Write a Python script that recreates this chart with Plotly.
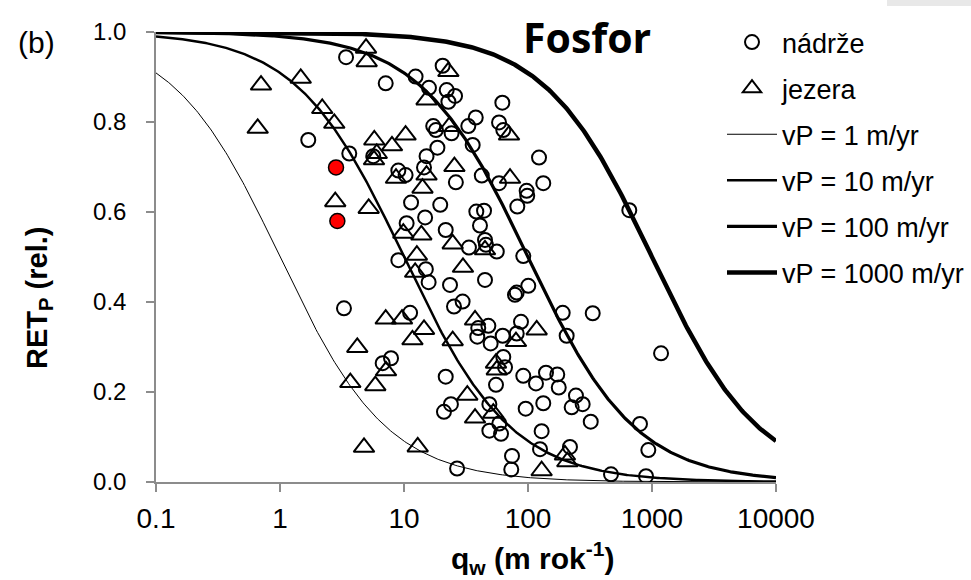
import numpy as np
import plotly.graph_objects as go

# ---- data ----
nadrze_q = [3.41, 7.12, 20.5, 12.4, 15.9, 22.1, 25.8, 22.8, 37.9, 33.0, 17.2, 18.1, 24.2, 1.69, 35.8,
            18.6, 3.62, 5.65, 15.2, 26.2, 9.0, 10.3, 14.5, 11.4, 19.6, 14.8, 38.3, 10.5, 21.7, 33.4,
            9.0, 15.0, 15.8, 23.5, 29.7, 25.3, 3.28, 11.2, 39.7, 39.0, 7.86, 6.73, 21.7, 23.9, 21.0,
            26.8, 62.1, 58.4, 63.2, 122.7, 42.4, 58.4, 132.8, 97.5, 98.6, 82.0, 44.2, 41.0, 656, 45.0,
            56.0, 91.6, 45.8, 45.0, 100.5, 81.1, 78.5, 190.5, 332.6, 47.9, 87.8, 62.5, 81.1, 50.0, 205,
            63.2, 65.3, 91.6, 116, 139.7, 172.2, 177, 55.2, 243.6, 225, 276, 132.8, 95.8, 48.8, 320.6,
            58.7, 48.8, 60.6, 128.8, 125, 218, 74.3, 73.3, 467, 800, 1183, 934, 895]
nadrze_ret = [0.944, 0.886, 0.925, 0.901, 0.876, 0.871, 0.858, 0.845, 0.810, 0.791, 0.791, 0.782, 0.775, 0.760, 0.749,
              0.743, 0.730, 0.724, 0.724, 0.666, 0.692, 0.682, 0.699, 0.621, 0.616, 0.588, 0.601, 0.575, 0.560, 0.521,
              0.493, 0.473, 0.444, 0.438, 0.401, 0.390, 0.386, 0.376, 0.342, 0.323, 0.275, 0.264, 0.234, 0.173, 0.156,
              0.030, 0.843, 0.799, 0.782, 0.721, 0.681, 0.664, 0.664, 0.647, 0.636, 0.612, 0.603, 0.570, 0.604, 0.538,
              0.512, 0.502, 0.527, 0.449, 0.436, 0.421, 0.416, 0.376, 0.375, 0.347, 0.356, 0.325, 0.330, 0.308, 0.325,
              0.278, 0.255, 0.236, 0.219, 0.243, 0.239, 0.210, 0.216, 0.192, 0.166, 0.173, 0.175, 0.163, 0.173, 0.134,
              0.130, 0.114, 0.107, 0.113, 0.073, 0.078, 0.058, 0.028, 0.017, 0.129, 0.286, 0.071, 0.013]

jezera_q = [0.703, 0.661, 4.94, 5.0, 1.47, 22.8, 15.2, 2.19, 2.74, 23.2, 10.3, 5.76, 8.0, 6.03, 5.73,
            25.5, 8.62, 15.2, 14.1, 2.79, 5.19, 9.87, 13.8, 24.7, 12.7, 12.3, 29.9, 7.12, 9.64, 14.5,
            11.7, 24.7, 37.4, 4.20, 7.16, 3.69, 5.87, 32.4, 37.4, 4.76, 12.9, 70.3, 71.6, 45.0, 117.5,
            80.0, 55.2, 56.0, 52.5, 198.6, 207.5, 128.8]
jezera_ret = [0.882, 0.786, 0.964, 0.934, 0.897, 0.912, 0.849, 0.830, 0.797, 0.790, 0.771, 0.760, 0.747, 0.730, 0.716,
              0.701, 0.675, 0.682, 0.653, 0.623, 0.608, 0.553, 0.549, 0.529, 0.504, 0.466, 0.477, 0.362, 0.362, 0.339,
              0.316, 0.314, 0.360, 0.299, 0.247, 0.221, 0.214, 0.193, 0.142, 0.077, 0.078, 0.771, 0.675, 0.516, 0.338,
              0.312, 0.264, 0.249, 0.153, 0.060, 0.045, 0.025]

highlight_q = [2.83, 2.90]
highlight_ret = [0.699, 0.580]

vp_values = [1, 10, 100, 1000]
vp_names = ["vP = 1 m/yr", "vP = 10 m/yr", "vP = 100 m/yr", "vP = 1000 m/yr"]
vp_widths = [1, 2.5, 3.2, 4.5]

x_tickvals = [0.1, 1, 10, 100, 1000, 10000]
x_ticktext = ["0.1", "1", "10", "100", "1000", "10000"]

# model curves RET = vP / (vP + qw)
q_grid = np.logspace(-1, 4, 400)

W, H = 971, 580
ML, MR, MT, MB = 156, 195, 32, 98
pw = W - ML - MR
ph = H - MT - MB


def to_paper(px, py):
    return (px - ML) / pw, (H - MB - py) / ph


fig = go.Figure()

fig.add_trace(go.Scatter(x=nadrze_q, y=nadrze_ret, mode="markers", name="nádrže",
                         legendgroup="a",
                         marker=dict(symbol="circle-open", size=14, color="black", line=dict(width=2))))
fig.add_trace(go.Scatter(x=jezera_q, y=jezera_ret, mode="markers", name="jezera",
                         legendgroup="b",
                         marker=dict(symbol="triangle-up-open", size=18, color="black", line=dict(width=2))))
fig.add_trace(go.Scatter(x=highlight_q, y=highlight_ret, mode="markers", showlegend=False,
                         marker=dict(symbol="circle", size=15, color="#ff0000", line=dict(width=1.5, color="black"))))

for i, (vp, nm, w) in enumerate(zip(vp_values, vp_names, vp_widths)):
    fig.add_trace(go.Scatter(x=q_grid, y=vp / (vp + q_grid), mode="lines", name=nm,
                             legendgroup="c%d" % i,
                             line=dict(color="black", width=w)))

lx, ly = to_paper(722, 18)
fos = to_paper(587, 37)
bb = to_paper(36, 42)
ytit = to_paper(39, 298)
xtit = to_paper(532, 558)

fig.update_layout(
    width=W, height=H,
    margin=dict(l=ML, r=MR, t=MT, b=MB, autoexpand=False),
    paper_bgcolor="white", plot_bgcolor="white",
    font=dict(family="Liberation Sans, Arial", size=20, color="black"),
    showlegend=True,
    legend=dict(x=lx, xanchor="left", y=ly, yanchor="top",
                font=dict(size=27), tracegroupgap=8, bgcolor="rgba(0,0,0,0)",
                itemwidth=50),
    xaxis=dict(type="log", range=[-1, 4], tickvals=x_tickvals, ticktext=x_ticktext,
               showgrid=False, zeroline=False, showline=True, linecolor="#8c8c8c", linewidth=1.5,
               ticks="outside", ticklen=8, tickcolor="#8c8c8c", tickwidth=1.5, automargin=False,
               tickfont=dict(size=28), ticklabelstandoff=3),
    yaxis=dict(range=[0, 1], dtick=0.2, tickformat=".1f",
               showgrid=False, zeroline=False, showline=True, linecolor="#8c8c8c", linewidth=1.5,
               ticks="outside", ticklen=8, tickcolor="#8c8c8c", tickwidth=1.5, automargin=False,
               tickfont=dict(size=24), ticklabelstandoff=15),
    annotations=[
        dict(text="<b>Fosfor</b>", x=fos[0], y=fos[1], xref="paper", yref="paper", showarrow=False,
             font=dict(family="Open Sans", size=41), xanchor="center", yanchor="middle"),
        dict(text="(b)", x=bb[0], y=bb[1], xref="paper", yref="paper", showarrow=False,
             font=dict(size=30), xanchor="center", yanchor="middle"),
        dict(text="<b>RET<sub>P</sub> (rel.)</b>", x=ytit[0], y=ytit[1], xref="paper", yref="paper",
             showarrow=False, textangle=-90, font=dict(size=29), xanchor="center", yanchor="middle"),
        dict(text="<b>q<sub>w</sub> (m rok<sup>-1</sup>)</b>", x=xtit[0], y=xtit[1], xref="paper",
             yref="paper", showarrow=False, font=dict(size=30), xanchor="center", yanchor="middle"),
    ],
    shapes=[
        dict(type="rect", xref="paper", yref="paper", x0=to_paper(887, 0)[0], x1=to_paper(971, 0)[0],
             y0=to_paper(0, 6)[1], y1=to_paper(0, 0)[1], fillcolor="#e8e8e8", line=dict(width=0),
             layer="below"),
    ],
)

fig.write_html("out.html")
